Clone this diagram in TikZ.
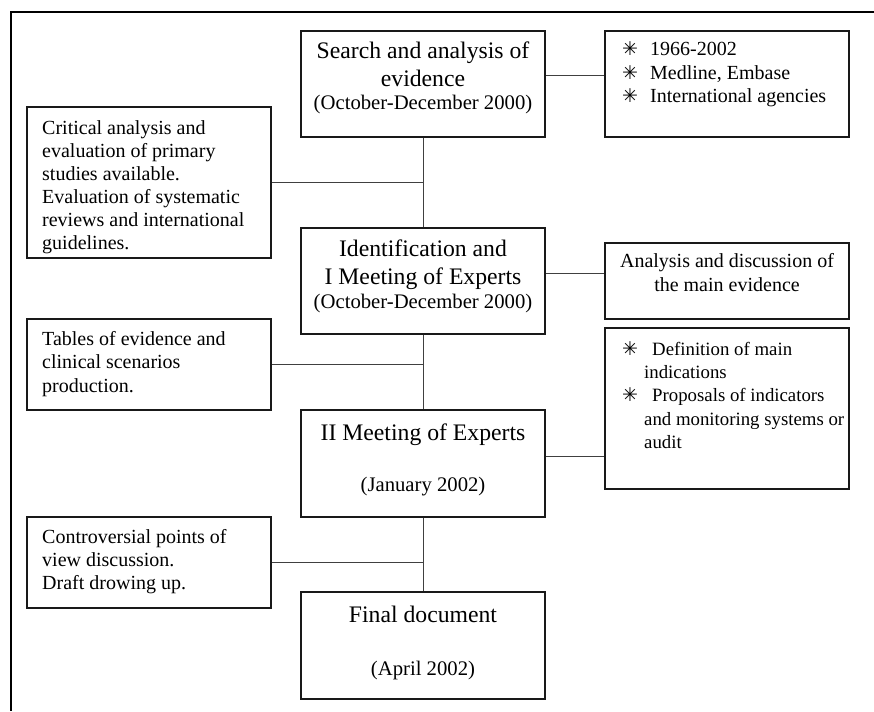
\documentclass[tikz,border=0pt]{standalone}
\usepackage{fontspec}
\setmainfont{Liberation Serif}
\newfontfamily\symfont{DejaVu Sans}
\usetikzlibrary{calc}
\newcommand{\bul}[1]{\makebox[#1][l]{\symfont\fontsize{19}{19}\selectfont ✳}}
\begin{document}
\begin{tikzpicture}[x=1pt,y=-1pt,
  box/.style={draw=black!90, line width=1.2pt, rectangle, inner sep=0pt, minimum width=244pt},
  conn/.style={draw=black!75, line width=1pt},
  side/.style={inner sep=0pt, align=left, anchor=base west, font=\fontsize{20}{23.3}\selectfont},
  sidec/.style={inner sep=0pt, align=center, anchor=base, font=\fontsize{20}{23.3}\selectfont},
  title/.style={inner sep=0pt, align=center, anchor=base, font=\fontsize{23.7}{28}\selectfont},
  date/.style={inner sep=0pt, align=center, anchor=base, font=\fontsize{20.7}{24}\selectfont}]
\useasboundingbox (0,0) rectangle (874,711);
% frame
\draw[line width=2pt] (874,12) -- (11,12) -- (11,711);
% main boxes
\node[box, minimum height=106pt] (S) at (423,84) {};
\node[box, minimum height=106pt] (I) at (423,281) {};
\node[box, minimum height=107pt] (II) at (423,463.5) {};
\node[box, minimum height=107pt] (F) at (423,645.5) {};
% right boxes
\node[box, minimum height=106pt] (A) at (727,84) {};
\node[box, minimum height=76pt] (N) at (727,281) {};
\node[box, minimum height=161pt] (D) at (727,408.5) {};
% left boxes
\node[box, minimum height=151pt] (C) at (149,182.5) {};
\node[box, minimum height=91pt] (T) at (149,364.5) {};
\node[box, minimum height=91pt] (V) at (149,562.5) {};
% connectors
\draw[conn] (S) -- (I);
\draw[conn] (I) -- (II);
\draw[conn] (II) -- (F);
\coordinate (s1) at ($(S.east)+(0,-8)$);
\draw[conn] (s1) -- (s1 -| A.west);
\coordinate (i1) at ($(I.east)+(0,-8)$);
\draw[conn] (i1) -- (i1 -| N.west);
\coordinate (m1) at ($(II.east)+(0,-7.5)$);
\draw[conn] (m1) -- (m1 -| D.west);
\draw[conn] (C.east) -- (C.east -| S.south);
\draw[conn] (T.east) -- (T.east -| I.south);
\draw[conn] (V.east) -- (V.east -| II.south);
% main texts (base anchor = baseline of last line)
\node[title] (tS) at (423,87) {Search and analysis of\\evidence};
\node[date] (dS) at (423,110) {(October-December 2000)};
\node[title] (tI) at (423,284) {Identification and\\I Meeting of Experts};
\node[date] (dI) at (423,308) {(October-December 2000)};
\node[title] (tII) at (423,440) {II Meeting of Experts};
\node[date] (dII) at (423,491) {(January 2002)};
\node[title] (tF) at (423,622) {Final document};
\node[date] (dF) at (423,675) {(April 2002)};
% right texts
\node[side, font=\fontsize{20}{23.5}\selectfont] (tA) at (622,103) {\bul{28pt}1966-2002\\\bul{28pt}Medline, Embase\\\bul{28pt}International agencies};
\node[sidec] (tN) at (727,291) {Analysis and discussion of\\the main evidence};
\node[side, font=\fontsize{18.8}{23.4}\selectfont] (tD) at (622,448.6) {\bul{30pt}Definition of main\\\hspace*{22pt}indications\\\bul{30pt}Proposals of indicators\\\hspace*{22pt}and monitoring systems or\\\hspace*{22pt}audit};
% left texts
\node[side, font=\fontsize{20}{23}\selectfont] (tC) at (42,249) {Critical analysis and\\evaluation of primary\\studies available.\\Evaluation of systematic\\reviews and international\\guidelines.};
\node[side, font=\fontsize{20}{23.5}\selectfont] (tT) at (42,392) {Tables of evidence and\\clinical scenarios\\production.};
\node[side] (tV) at (42,589.6) {Controversial points of\\view discussion.\\Draft drowing up.};
\end{tikzpicture}
\end{document}
